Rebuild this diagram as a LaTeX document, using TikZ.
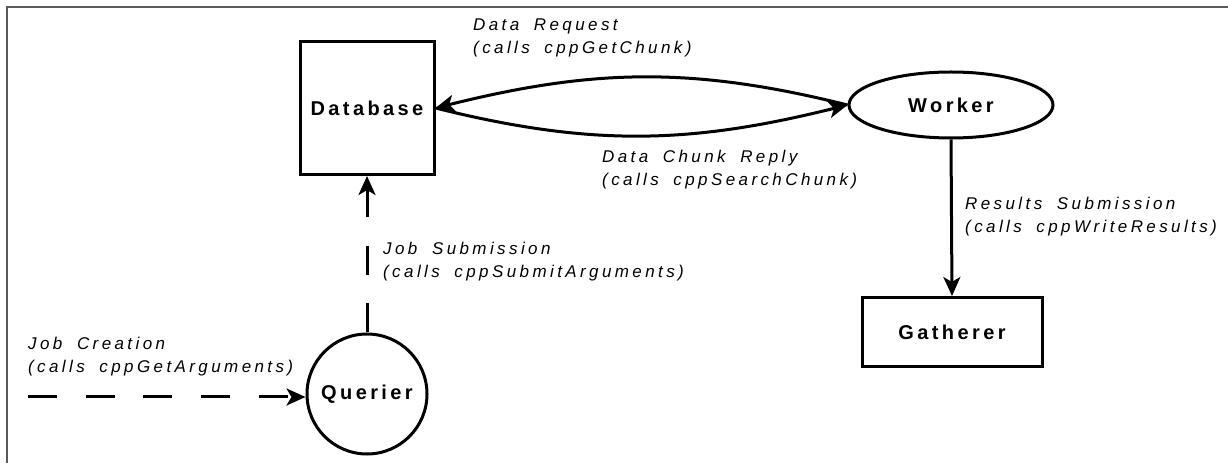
\documentclass[tikz,border=0pt]{standalone}
\usepackage{fontspec}
\usetikzlibrary{arrows.meta,shapes.geometric}
\newfontfamily\boxfont[LetterSpace=17]{Liberation Sans}
\newfontfamily\flowfont[LetterSpace=20,WordSpace=1.8]{Liberation Sans}
\tikzset{
  shapeline/.style={draw=black, line width=3pt, inner sep=0pt,
    font=\boxfont\bfseries\fontsize{20}{24}\selectfont},
  boxnode/.style={shapeline, rectangle},
  ovalnode/.style={shapeline, ellipse},
  roundnode/.style={shapeline, circle},
  flowlabel/.style={anchor=north west, inner sep=0pt, align=left,
    font=\flowfont\itshape\fontsize{17}{23}\selectfont},
  tip/.tip={Stealth[length=19pt,width=17pt,inset=5pt]},
  flow/.style={line width=3pt, -tip},
  dashflow/.style={flow, dash pattern=on 29pt off 28.7pt},
  framerule/.style={draw=black!65, line width=1.5pt}
}
\begin{document}
\begin{tikzpicture}[x=1pt,y=1pt]
  \useasboundingbox (0,0) rectangle (1228,463);
  % open frame: only the top and left rules are inside the page
  \draw[framerule] (1228,456) -- (7,456) -- (7,0);

  \node[boxnode, minimum width=134pt, minimum height=133pt] (db) at (367,355) {Database};
  \node[ovalnode, minimum width=204pt, minimum height=66pt] (worker) at (951,358) {Worker};
  \node[boxnode, minimum width=180pt, minimum height=69pt] (gatherer) at (952,131) {Gatherer};
  \node[roundnode, minimum size=120pt] (querier) at (367,69) {Querier};

  % request / reply pair between the database and the worker
  \draw[flow] (worker.west) to[out=166,in=14] (db.east);
  \draw[flow] (db.east) to[out=-14,in=194] (worker.west);

  % results go down to the gatherer
  \draw[flow] (worker.south) -- (gatherer.north);

  % job submission from the querier up to the database
  \draw[dashflow] (querier.north) -- (db.south);

  % job creation coming in from the left
  \coordinate (jobsrc) at (28,66);
  \draw[dashflow] (jobsrc) -- (jobsrc -| querier.west);

  \node[flowlabel] (lreq) at (473,444) {Data Request\\(calls cppGetChunk)};
  \node[flowlabel] (lrep) at (602,313) {Data Chunk Reply\\(calls cppSearchChunk)};
  \node[flowlabel] (lsub) at (383,221) {Job Submission\\(calls cppSubmitArguments)};
  \node[flowlabel] (lres) at (965,266) {Results Submission\\(calls cppWriteResults)};
  \node[flowlabel] (lcre) at (28,126) {Job Creation\\(calls cppGetArguments)};
\end{tikzpicture}
\end{document}
